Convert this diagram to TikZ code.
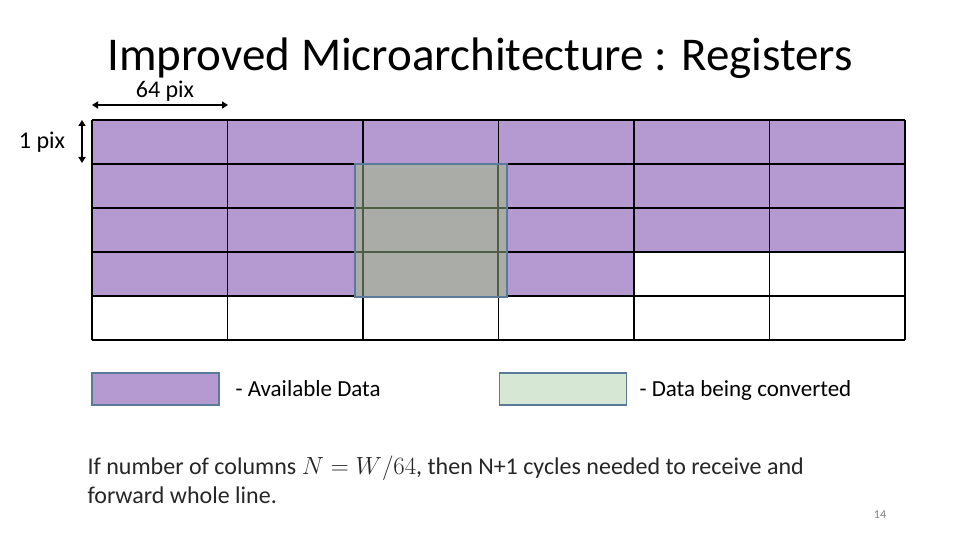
\documentclass[tikz,border=0pt]{standalone}
\usepackage{fontspec}
\setmainfont{Carlito}
\usetikzlibrary{arrows.meta}
\definecolor{pur}{HTML}{B59AD1}
\definecolor{gry}{HTML}{AAADA7}
\definecolor{grn}{HTML}{D6E8D4}
\definecolor{bord}{HTML}{5A7A9C}
\definecolor{dg}{HTML}{4F5E45}
\tikzset{cell/.style={draw=black,line width=1.5pt},
 dim/.style={{Triangle[length=6pt,width=7pt]}-{Triangle[length=6pt,width=7pt]},line width=2pt},
 leg/.style={draw=bord,line width=1.5pt,minimum width=127pt,minimum height=32pt,inner sep=0pt}}
\begin{document}
\begin{tikzpicture}[x=1pt,y=-1pt]
\useasboundingbox (0,0) rectangle (960,540);
\node[font=\fontsize{47}{52}\selectfont] (title) at (480,58) {Improved Microarchitecture : Registers};
% grid
\foreach \r in {0,1,2}{\foreach \c in {0,...,5}{
 \fill[pur] ({92+135.5*\c},{120+44*\r}) rectangle ++(135.5,44);}}
\foreach \c in {0,...,3}{\fill[pur] ({92+135.5*\c},252) rectangle ++(135.5,44);}
\foreach \c in {0,...,6}{\draw[cell] ({92+135.5*\c},120) -- ({92+135.5*\c},340);}
\foreach \r in {0,...,5}{\draw[cell] (92,{120+44*\r}) -- (905,{120+44*\r});}
% converting block
\fill[gry] (355,164) rectangle (507,297);
\draw[dg,line width=1.5pt] (355,208) -- (507,208) (355,252) -- (507,252) (363,164) -- (363,297) (498,164) -- (498,297);
\draw[bord,line width=2pt] (355,164) rectangle (507,297);
% dims
\coordinate (h1) at (92,105); \coordinate (h2) at (228,105);
\draw[dim] (h1) -- (h2);
\node[font=\fontsize{24}{28}\selectfont] (w) at (165,91) {64 pix};
\coordinate (v1) at (82,120); \coordinate (v2) at (82,163);
\draw[dim] (v1) -- (v2);
\node[font=\fontsize{24}{28}\selectfont] (hp) at (42,142) {1 pix};
% legend
\node[leg,fill=pur] (l1) at (155.5,389) {};
\node[anchor=base west,font=\fontsize{23}{27}\selectfont] (t1) at (232,396) {- Available Data};
\node[leg,fill=grn] (l2) at (563,389) {};
\node[anchor=base west,font=\fontsize{23}{27}\selectfont] (t2) at (636,396) {- Data being converted};
\node[anchor=north west,align=left,text=black!85,font=\fontsize{24}{29}\selectfont] (b) at (84,452) {If number of columns $N=W/64$, then N+1 cycles needed to receive and\\forward whole line.};
\node[text=gray,font=\fontsize{12}{14}\selectfont] (pg) at (880,515) {14};
\end{tikzpicture}
\end{document}
